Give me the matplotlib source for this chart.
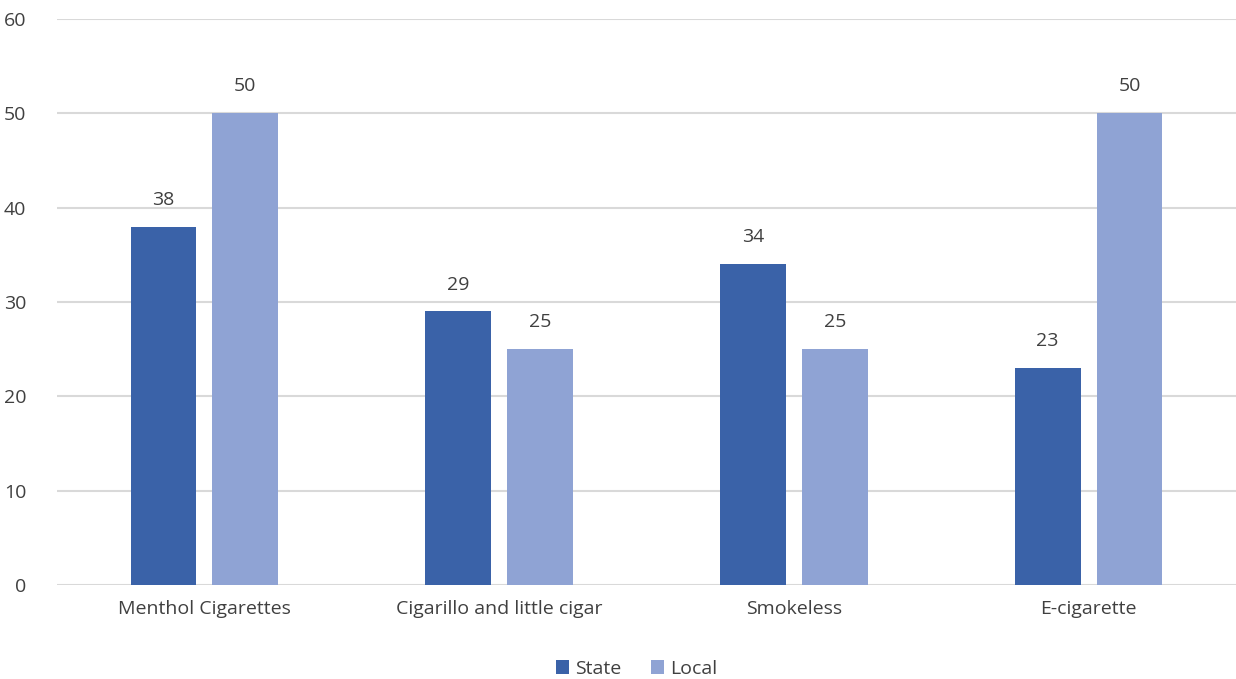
import numpy as np
import matplotlib.pyplot as plt

plt.rcParams['font.family'] = ['Open Sans', 'DejaVu Sans']

categories = ['Menthol Cigarettes', 'Cigarillo and little cigar', 'Smokeless', 'E-cigarette']
state = [38, 29, 34, 23]
local = [50, 25, 25, 50]

c_state = '#3A62A8'
c_local = '#8FA3D4'
txt = '#404040'

fig = plt.figure(figsize=(12.36, 6.79), dpi=100)
ax = fig.add_axes([57 / 1236, 1 - 585 / 679, 1 - 57 / 1236, (585 - 19) / 679])

x = np.arange(len(categories))
w = 0.223
off = 0.139
b1 = ax.bar(x - off, state, w, color=c_state, label='State', zorder=3)
b2 = ax.bar(x + off, local, w, color=c_local, label='Local', zorder=3)

for bars in (b1, b2):
    for r in bars:
        ax.text(r.get_x() + r.get_width() / 2, r.get_height() + 1.9, '%d' % r.get_height(),
                ha='center', va='bottom', fontsize=14, color=txt)

ax.set_xlim(-0.5, 3.5)
ax.set_ylim(0, 60)
ax.set_yticks(range(0, 61, 10))
ax.set_xticks(x)
ax.set_xticklabels(categories)
ax.grid(axis='y', color='#D9D9D9', linewidth=1.5, zorder=0)
for s in ax.spines.values():
    s.set_visible(False)
ax.tick_params(axis='both', length=0, labelsize=14, labelcolor=txt)
ax.tick_params(axis='y', pad=22)
ax.tick_params(axis='x', pad=11)

fig.legend(handles=[b1, b2], labels=['State', 'Local'], loc='center', bbox_to_anchor=(0.515, 1 - 669 / 679),
           ncol=2, frameon=False, fontsize=14, labelcolor=txt, handlelength=0.7, handleheight=0.7,
           handletextpad=0.3, columnspacing=1.5)

fig.savefig('out.png', dpi=100)
